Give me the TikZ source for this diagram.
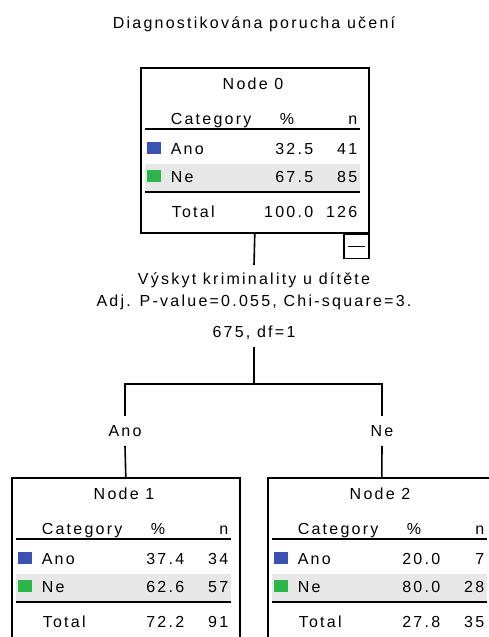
\documentclass[tikz,border=0pt]{standalone}
\usepackage{fontspec}
\setmainfont{Liberation Sans}[LetterSpace=14]
\definecolor{anoblue}{RGB}{60,82,178}
\definecolor{negreen}{RGB}{44,182,74}
\definecolor{bandgray}{RGB}{232,232,232}

\begin{document}
\begin{tikzpicture}[x={(1pt,0pt)},y={(0pt,-1pt)},line width=1.6pt,
	font=\fontsize{16}{22}\selectfont,
	treebox/.style={draw,minimum width=228pt,minimum height=165pt,inner sep=0pt},
	minbox/.style={draw,minimum width=25pt,minimum height=24pt,inner sep=0pt},
	cell/.style={inner sep=0pt,text height=11.5pt,text depth=0pt},
	branch/.style={inner xsep=0pt,inner ysep=8.25pt,text height=11.5pt,text depth=0pt},
	splitlbl/.style={align=center,inner xsep=0pt,inner ysep=7pt}]
	\useasboundingbox (0,0) rectangle (489,637);
	\node[cell] (title) at (254,23) {Diagnostikována porucha učení};
	% the three tree nodes
	\foreach \nm/\px/\py/\ttl/\ap/\an/\np/\nn/\tp/\tn in {
		n0/140/67/Node 0/32.5/41/67.5/85/100.0/126,
		n1/11/477/Node 1/37.4/34/62.6/57/72.2/91,
		n2/267/477/Node 2/20.0/7/80.0/28/27.8/35}{
		\begin{scope}[shift={(\px,\py)}]
			\fill[bandgray] (5,97) rectangle (220,124);
			\node[treebox,anchor=north west] (\nm) at (0,0) {};
			\node[cell] at (113,17) {\ttl};
			\node[cell,anchor=west] at (30,52) {Category};
			\node[cell] at (147,52) {\%};
			\node[cell,anchor=east] at (218,52) {n};
			\draw (5,62) -- (220,62);
			\fill[anoblue] (7,75) rectangle (21,87);
			\node[cell,anchor=west] at (30,82) {Ano};
			\node[cell,anchor=east] at (174,82) {\ap};
			\node[cell,anchor=east] at (218,82) {\an};
			\fill[negreen] (7,103) rectangle (21,115);
			\node[cell,anchor=west] at (30,110) {Ne};
			\node[cell,anchor=east] at (174,110) {\np};
			\node[cell,anchor=east] at (218,110) {\nn};
			\draw (5,125) -- (220,125);
			\node[cell,anchor=west] at (31,145) {Total};
			\node[cell,anchor=east] at (174,145) {\tp};
			\node[cell,anchor=east] at (218,145) {\tn};
		\end{scope}
	}
	\node[minbox,anchor=north east] (n0min) at (n0.south east) {};
	\draw ([xshift=5pt]n0min.west) -- ([xshift=-5pt]n0min.east);
	% split
	\node[splitlbl,anchor=north] (split) at (254,265) {Výskyt kriminality u dítěte\\Adj. P-value=0.055, Chi-square=3.\\[9pt]675, df=1};
	\coordinate (jn) at (254,384);
	\node[branch] (ano) at (125,431) {Ano};
	\node[branch] (ne) at (382,431) {Ne};
	\draw (n0.south) -- (split.north);
	\draw (split.south) -- (jn);
	\draw (ano.north) |- (jn) -| (ne.north);
	\draw (ano.south) -- (n1.north);
	\draw (ne.south) -- (n2.north);
\end{tikzpicture}
\end{document}
